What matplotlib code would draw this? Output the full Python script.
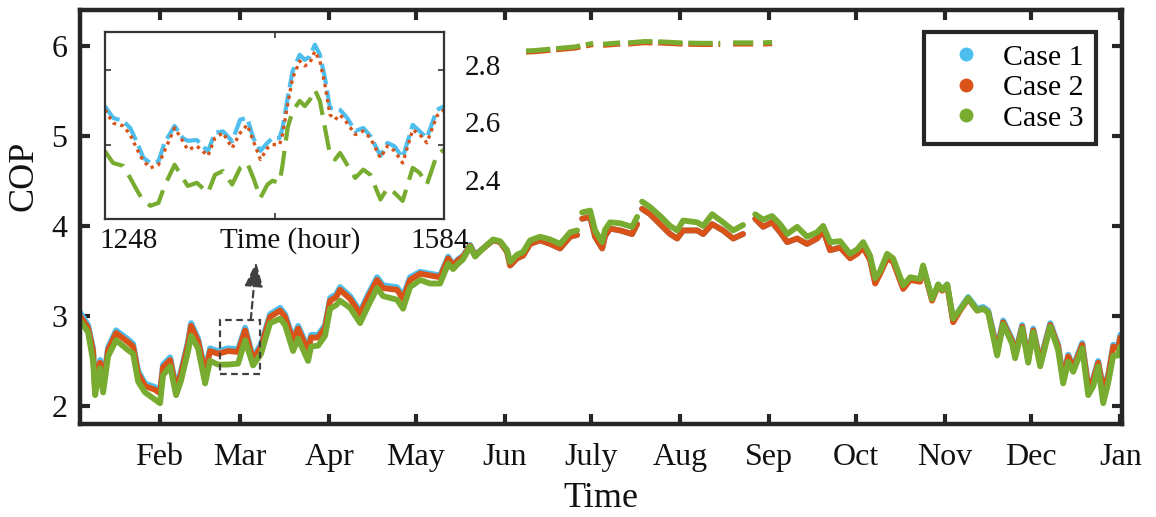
import numpy as np
import matplotlib.pyplot as plt
from matplotlib.lines import Line2D
from matplotlib.patches import Rectangle

plt.rcParams['font.family'] = ['Liberation Serif', 'DejaVu Serif']

nan = np.nan

# COP over the year (hour of year), sampled at the turning points of the curves
hours = [80, 147, 189, 206, 248, 273, 314, 381, 481, 523, 565, 623, 706, 748, 773,
         832, 882, 923, 982, 1007, 1065, 1124, 1165, 1232, 1316, 1399, 1458, 1524,
         1591, 1666, 1750, 1791, 1858, 1900, 1983, 2008, 2067, 2125, 2167, 2217,
         2250, 2334, 2417, 2484, 2559, 2609, 2726, 2776, 2834, 2918, 3001, 3085,
         3152, 3193, 3235, 3277, 3335, 3377, 3444, 3527, 3586, 3644, 3669, 3727,
         3777, 3836, 3919, 4003, 4086, 4170, 4228, 4245, 4270, 4337, 4378, 4437,
         4462, 4503, 4587, 4687, 4729, 4746, 4770, 4837, 4921, 5004, 5063, 5113,
         5230, 5280, 5355, 5446, 5530, 5613, 5664, 5714, 5780, 5855, 5922, 5981,
         6064, 6147, 6231, 6281, 6339, 6423, 6506, 6565, 6615, 6673, 6715, 6757,
         6815, 6865, 6949, 7007, 7090, 7115, 7190, 7241, 7274, 7316, 7366, 7424,
         7491, 7566, 7616, 7658, 7733, 7783, 7858, 7883, 7942, 7992, 8034, 8092,
         8176, 8242, 8284, 8326, 8368, 8443, 8493, 8535, 8576, 8618, 8660, 8702,
         8743, 8760]

cop_case1 = [3.04, 2.90, 2.64, 2.20, 2.51, 2.23, 2.65, 2.84, 2.74, 2.69, 2.39, 2.25, 2.21, 2.17, 2.46,
             2.54, 2.21, 2.39, 2.72, 2.92, 2.75, 2.39, 2.64, 2.61, 2.64, 2.63, 2.87, 2.54,
             2.69, 3.02, 3.09, 3.02, 2.75, 2.89, 2.64, 2.79, 2.79, 2.90, 3.20, 3.24,
             3.32, 3.22, 3.05, 3.24, 3.43, 3.34, 3.32, 3.22, 3.43, 3.49, 3.47, 3.45,
             3.66, 3.57, 3.63, 3.67, 3.79, 3.68, 3.75, 3.84, 3.82, 3.71, 3.56, 3.64,
             3.67, 3.80, 3.84, 3.80, 3.75, 3.88, 3.90, nan, 4.08, 4.10, 3.88, 3.75,
             3.89, 3.97, 3.95, 3.91, 4.02, nan, 4.19, 4.13, 4.02, 3.91, 3.86, 3.95,
             3.95, 3.91, 4.02, 3.95, 3.86, 3.91, nan, 4.08, 3.99, 4.04, 3.93, 3.82,
             3.86, 3.80, 3.86, 3.95, 3.73, 3.76, 3.65, 3.70, 3.77, 3.63, 3.37, 3.48,
             3.65, 3.61, 3.31, 3.41, 3.39, 3.55, 3.18, 3.35, 3.29, 3.35, 2.95, 3.08,
             3.21, 3.08, 3.10, 3.06, 2.64, 2.95, 2.74, 2.58, 2.90, 2.53, 2.86, 2.50,
             2.92, 2.68, 2.31, 2.57, 2.44, 2.70, 2.23, 2.31, 2.50, 2.20, 2.35, 2.68,
             2.66, 2.79]

cop_case2 = [3.00, 2.87, 2.61, 2.17, 2.48, 2.20, 2.62, 2.81, 2.71, 2.66, 2.36, 2.22, 2.18, 2.14, 2.43,
             2.51, 2.18, 2.36, 2.69, 2.89, 2.72, 2.36, 2.61, 2.58, 2.61, 2.60, 2.84, 2.51,
             2.66, 2.99, 3.06, 2.99, 2.72, 2.86, 2.61, 2.76, 2.76, 2.87, 3.17, 3.21,
             3.29, 3.19, 3.02, 3.21, 3.40, 3.31, 3.29, 3.19, 3.40, 3.47, 3.45, 3.43,
             3.64, 3.56, 3.62, 3.66, 3.78, 3.67, 3.75, 3.84, 3.82, 3.71, 3.56, 3.64,
             3.67, 3.80, 3.84, 3.80, 3.75, 3.88, 3.90, nan, 4.08, 4.10, 3.88, 3.75,
             3.89, 3.97, 3.95, 3.91, 4.02, nan, 4.19, 4.13, 4.02, 3.91, 3.86, 3.95,
             3.95, 3.91, 4.02, 3.95, 3.86, 3.91, nan, 4.08, 3.99, 4.04, 3.93, 3.82,
             3.86, 3.80, 3.86, 3.95, 3.73, 3.76, 3.64, 3.69, 3.76, 3.62, 3.36, 3.47,
             3.64, 3.60, 3.30, 3.40, 3.38, 3.54, 3.17, 3.34, 3.28, 3.34, 2.93, 3.06,
             3.19, 3.06, 3.08, 3.04, 2.62, 2.93, 2.72, 2.56, 2.88, 2.51, 2.84, 2.48,
             2.90, 2.66, 2.29, 2.55, 2.42, 2.68, 2.21, 2.29, 2.48, 2.18, 2.33, 2.66,
             2.64, 2.76]

cop_case3 = [2.95, 2.82, 2.50, 2.12, 2.42, 2.15, 2.55, 2.73, 2.62, 2.58, 2.27, 2.15, 2.07, 2.03, 2.34,
             2.44, 2.12, 2.28, 2.61, 2.78, 2.64, 2.25, 2.50, 2.46, 2.46, 2.47, 2.73, 2.45,
             2.58, 2.92, 2.97, 2.90, 2.61, 2.75, 2.50, 2.66, 2.67, 2.78, 3.08, 3.12,
             3.17, 3.09, 2.92, 3.11, 3.31, 3.22, 3.18, 3.08, 3.32, 3.40, 3.36, 3.36,
             3.58, 3.52, 3.58, 3.63, 3.77, 3.66, 3.75, 3.85, 3.83, 3.73, 3.60, 3.68,
             3.71, 3.84, 3.88, 3.85, 3.80, 3.93, 3.95, nan, 4.15, 4.17, 3.95, 3.82,
             3.96, 4.04, 4.03, 3.99, 4.10, nan, 4.27, 4.21, 4.11, 4.00, 3.95, 4.06,
             4.04, 4.00, 4.13, 4.04, 3.95, 4.01, nan, 4.13, 4.07, 4.11, 4.02, 3.91,
             3.99, 3.88, 3.93, 4.00, 3.82, 3.83, 3.69, 3.74, 3.82, 3.67, 3.42, 3.50,
             3.69, 3.64, 3.34, 3.43, 3.41, 3.56, 3.19, 3.35, 3.29, 3.35, 2.97, 3.07,
             3.20, 3.06, 3.08, 3.04, 2.56, 2.91, 2.69, 2.53, 2.86, 2.48, 2.82, 2.44,
             2.88, 2.62, 2.25, 2.49, 2.38, 2.64, 2.12, 2.22, 2.44, 2.03, 2.26, 2.56,
             2.56, 2.66]

# summer stretch drawn along the top of the axes
top_hours = [3802, 3877, 3961, 4086, 4211, 4362, 4400, 4445, 4587, 4620, 4654,
             4795, 4946, 5088, 5255, 5422, 5470, 5530, 5697, 5740, 5780, 5855]
top_case2 = [5.930, 5.935, 5.945, 5.960, 5.975, 6.015, nan, 6.005, 6.020, nan, 6.020,
             6.035, 6.030, 6.020, 6.015, 6.015, nan, 6.020, 6.020, nan, 6.020, 6.025]
top_case3 = [5.945, 5.950, 5.960, 5.975, 5.990, 6.030, nan, 6.020, 6.035, nan, 6.035,
             6.050, 6.045, 6.035, 6.030, 6.030, nan, 6.035, 6.035, nan, 6.035, 6.040]

# zoomed window, hours 1248-1584
zoom_hours = [1248, 1256, 1266, 1273, 1280, 1286, 1293, 1301, 1307, 1317, 1325, 1330,
              1339, 1350, 1357, 1365, 1374, 1382, 1389, 1395, 1402, 1409, 1414, 1421,
              1424, 1429, 1434, 1441, 1446, 1451, 1456, 1461, 1466, 1471, 1476, 1481,
              1488, 1496, 1504, 1511, 1521, 1528, 1535, 1543, 1553, 1560, 1567, 1577,
              1584]
zoom_case1 = [2.656, 2.616, 2.605, 2.581, 2.529, 2.477, 2.459, 2.465, 2.529, 2.588, 2.546, 2.536,
              2.539, 2.500, 2.564, 2.569, 2.535, 2.610, 2.616, 2.546, 2.501, 2.529, 2.546, 2.546,
              2.581, 2.685, 2.779, 2.836, 2.818, 2.830, 2.871, 2.836, 2.755, 2.650, 2.650, 2.644,
              2.616, 2.570, 2.581, 2.553, 2.484, 2.529, 2.517, 2.477, 2.592, 2.569, 2.546, 2.644,
              2.656]
zoom_case2 = [2.644, 2.598, 2.588, 2.558, 2.505, 2.466, 2.442, 2.453, 2.501, 2.581, 2.536, 2.505,
              2.518, 2.484, 2.546, 2.564, 2.511, 2.564, 2.592, 2.536, 2.471, 2.511, 2.523, 2.523,
              2.558, 2.662, 2.755, 2.814, 2.797, 2.807, 2.848, 2.814, 2.731, 2.627, 2.610, 2.627,
              2.598, 2.558, 2.570, 2.546, 2.477, 2.518, 2.501, 2.459, 2.575, 2.558, 2.529, 2.623,
              2.644]
zoom_case3 = [2.500, 2.459, 2.449, 2.407, 2.362, 2.327, 2.310, 2.320, 2.379, 2.453, 2.407, 2.379,
              2.390, 2.355, 2.418, 2.431, 2.384, 2.442, 2.459, 2.407, 2.337, 2.384, 2.397, 2.390,
              2.453, 2.581, 2.640, 2.675, 2.657, 2.679, 2.714, 2.675, 2.581, 2.488, 2.471, 2.494,
              2.453, 2.407, 2.436, 2.418, 2.332, 2.372, 2.355, 2.327, 2.442, 2.424, 2.384, 2.488,
              2.505]

month_hours = [744, 1416, 2160, 2880, 3624, 4344, 5088, 5832, 6552, 7296, 8016, 8760]
month_labels = ['Feb', 'Mar', 'Apr', 'May', 'Jun', 'July', 'Aug', 'Sep', 'Oct', 'Nov', 'Dec', 'Jan']
case_labels = ['Case 1', 'Case 2', 'Case 3']

c1, c2, c3 = '#4DBEEE', '#D95319', '#77AC30'
dark = '#262626'
ink = '#111111'

fig = plt.figure(figsize=(11.56, 5.17), dpi=100)
ax = fig.add_axes([0.0692, 0.180, 0.9011, 0.8008])

lw = 4.2
ax.plot(hours, cop_case1, color=c1, lw=lw, solid_capstyle='round')
ax.plot(hours, cop_case2, color=c2, lw=lw, solid_capstyle='round')
ax.plot(hours, cop_case3, color=c3, lw=lw, solid_capstyle='round')
ax.plot(top_hours, top_case2, color=c2, lw=3.5, dashes=(5, 1.2))
ax.plot(top_hours, top_case3, color=c3, lw=3.5, dashes=(5, 1.2))

# box around the zoomed window and the arrow pointing at the inset
ax.add_patch(Rectangle((1248, 2.35), 336, 0.61, fill=False, ec='#404040',
                       lw=1.6, ls=(0, (3, 2)), zorder=5))
ax.annotate('', xy=(1550, 3.60), xytext=(1505, 2.96),
            arrowprops=dict(arrowstyle='-|>,head_length=0.75,head_width=0.28',
                            mutation_scale=20, lw=1.6, ls=(0, (3, 2)),
                            color='#404040', shrinkA=0, shrinkB=0))

ax.set_xlim(80, 8772)
ax.set_ylim(1.8, 6.4)
ax.set_xticks(month_hours, month_labels)
ax.set_yticks([2, 3, 4, 5, 6])
ax.tick_params(direction='in', length=7, width=3, top=True, right=True,
               labelsize=23, color=dark, labelcolor=ink)
ax.tick_params(axis='x', pad=14)
ax.tick_params(axis='y', pad=9)
for s in ax.spines.values():
    s.set_linewidth(3.2)
    s.set_color(dark)

ax.set_xlabel('Time', fontsize=26, color=ink)
ax.xaxis.set_label_coords(0.5, -0.14)
ax.set_ylabel('COP', fontsize=26, color=ink)
ax.yaxis.set_label_coords(-0.038, 0.6)

handles = [Line2D([], [], ls='none', marker='o', ms=10, mec='none', color=c)
           for c in (c1, c2, c3)]
leg = ax.legend(handles, case_labels, loc='upper right', bbox_to_anchor=(0.975, 0.947),
                borderaxespad=0, fontsize=21.5, handletextpad=0.25, labelspacing=0.12,
                borderpad=0.4, fancybox=False, edgecolor=dark, framealpha=1)
leg.get_frame().set_linewidth(3)

# inset: zoomed window
axin = fig.add_axes([105 / 1156, 1 - 219 / 517, 339 / 1156, 187 / 517])
axin.plot(zoom_hours, zoom_case1, color=c1, lw=3, dashes=(5, 1.5))
axin.plot(zoom_hours, zoom_case2, color=c2, lw=2.4, ls=(0, (1, 1.3)))
axin.plot(zoom_hours, zoom_case3, color=c3, lw=3, dashes=(6, 2.5))
axin.set_xlim(1248, 1584)
axin.set_ylim(2.264, 2.915)
axin.set_xticks([1248, 1416, 1584], ['', '', ''])
axin.tick_params(axis='x', direction='in', length=4, width=1.2, top=True, color='#333333')
axin.set_yticks([2.4, 2.6, 2.8])
axin.tick_params(axis='y', which='major', length=0, left=False, right=False,
                 labelleft=False, labelright=True, pad=15, labelsize=21, labelcolor=ink)
axin.set_yticks([2.522, 2.783], minor=True)
axin.tick_params(axis='y', which='minor', direction='in', length=4, width=1.2,
                 left=True, right=True, color='#333333')
for s in axin.spines.values():
    s.set_linewidth(1.6)
    s.set_color('#333333')

axin.text(-0.015, -0.155, '1248', transform=axin.transAxes, ha='left', va='baseline',
          fontsize=21, color=ink)
axin.text(0.339, -0.155, 'Time (hour)', transform=axin.transAxes, ha='left', va='baseline',
          fontsize=21, color=ink)
axin.text(0.900, -0.155, '1584', transform=axin.transAxes, ha='left', va='baseline',
          fontsize=21, color=ink)

fig.savefig('out.png', dpi=100)
